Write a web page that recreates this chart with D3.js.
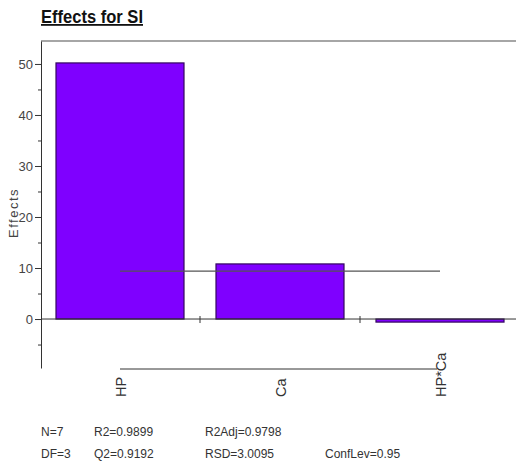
<!DOCTYPE html>
<html><head><meta charset="utf-8">
<script src="https://cdn.jsdelivr.net/npm/d3@7"></script>
<style>
body{margin:0;background:#fff;}
svg{display:block;font-family:"Liberation Sans",Arial,sans-serif;}
</style></head>
<body><svg id="c" width="516" height="464"></svg>
<script>
const categories = ["HP", "Ca", "HP*Ca"];
const effects = [50.2, 10.8, -0.6];
const critLine = 9.4;
const yTicks = [0, 10, 20, 30, 40, 50];
const yMinor = [-5, 5, 15, 25, 35, 45];
const statsRow1 = ["N=7", "R2=0.9899", "R2Adj=0.9798"];
const statsRow2 = ["DF=3", "Q2=0.9192", "RSD=3.0095", "ConfLev=0.95"];

const svg = d3.select("#c");
const y = d3.scaleLinear().domain([-9.6, 54.5]).range([368, 41]);
const x = d3.scaleBand().domain(categories).range([40, 520]).paddingInner(0.2).paddingOuter(0.1);
const step = x.step();
const centre = c => x(c) + x.bandwidth() / 2;

// title
svg.append("text").attr("x", 41).attr("y", 23).attr("font-size", 18).attr("font-weight", "bold")
  .attr("fill", "#111").attr("textLength", 102).attr("lengthAdjust", "spacingAndGlyphs")
  .attr("text-decoration", "underline").text("Effects for SI");

// top frame line
svg.append("line").attr("x1", 41).attr("x2", 516).attr("y1", 41).attr("y2", 41)
  .attr("stroke", "#888").attr("stroke-width", 1.5);

// y axis
const ya = svg.append("g").attr("transform", "translate(41,0)")
  .call(d3.axisLeft(y).tickValues(yTicks).tickSize(6).tickSizeOuter(0).tickPadding(2));
ya.select(".domain").attr("stroke", "#333");
ya.selectAll(".tick line").attr("stroke", "#333");
ya.selectAll(".tick text").attr("font-size", 13).attr("fill", "#444").attr("font-family", "Liberation Sans, Arial, sans-serif");
const ym = svg.append("g").attr("transform", "translate(41,0)")
  .call(d3.axisLeft(y).tickValues(yMinor).tickSize(3).tickFormat(""));
ym.select(".domain").remove();
ym.selectAll(".tick line").attr("stroke", "#333");

svg.append("text").attr("transform", "translate(18,213) rotate(-90)").attr("text-anchor", "middle")
  .attr("font-size", 13).attr("fill", "#444").attr("letter-spacing", 1.5).text("Effects");

// bars
svg.selectAll("rect.bar").data(categories).enter().append("rect").attr("class", "bar")
  .attr("x", c => x(c)).attr("width", x.bandwidth())
  .attr("y", (c, i) => y(Math.max(0, effects[i])))
  .attr("height", (c, i) => Math.abs(y(effects[i]) - y(0)))
  .attr("fill", "#7f00ff").attr("stroke", "#34085f").attr("stroke-width", 1.2);

// zero line
svg.append("line").attr("x1", 41).attr("x2", 516).attr("y1", y(0)).attr("y2", y(0))
  .attr("stroke", "#333").attr("stroke-width", 1);
categories.slice(1).forEach(c => {
  const bx = x(c) - step * x.paddingInner() / 2;
  svg.append("line").attr("x1", bx).attr("x2", bx).attr("y1", y(0) - 3).attr("y2", y(0) + 4)
    .attr("stroke", "#333");
});

// critical line
svg.append("line").attr("x1", centre(categories[0])).attr("x2", centre(categories[2]))
  .attr("y1", y(critLine)).attr("y2", y(critLine)).attr("stroke", "#555").attr("stroke-width", 1.3);

// bottom category axis
svg.append("line").attr("x1", centre(categories[0])).attr("x2", centre(categories[2]) - 3)
  .attr("y1", 369).attr("y2", 369).attr("stroke", "#333");
categories.forEach(c => {
  svg.append("text").attr("transform", `translate(${centre(c) + 6},397) rotate(-90)`)
    .attr("font-size", 14.5).attr("fill", "#333").text(c);
});

// stats
const cols = [41, 94, 205, 325];
const font = "Liberation Sans, Arial, sans-serif";
statsRow1.forEach((t, i) => svg.append("text").attr("x", cols[i]).attr("y", 436)
  .attr("font-size", 12).attr("fill", "#333").attr("font-family", font).text(t));
statsRow2.forEach((t, i) => svg.append("text").attr("x", cols[i]).attr("y", 458)
  .attr("font-size", 12).attr("fill", "#333").attr("font-family", font).text(t));
</script></body></html>
